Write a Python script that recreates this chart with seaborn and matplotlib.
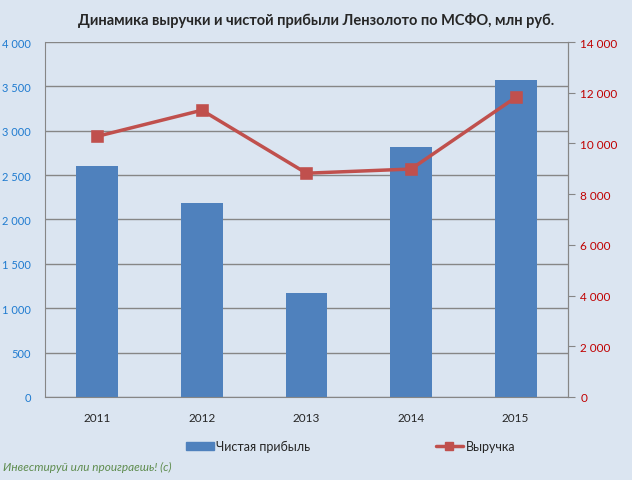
import numpy as np
import pandas as pd
import matplotlib
matplotlib.use("Agg")
import matplotlib.pyplot as plt
from matplotlib.ticker import FuncFormatter, FixedLocator, MultipleLocator
from matplotlib.lines import Line2D
from matplotlib.patches import Patch
import seaborn as sns

# данные
years = ["2011", "2012", "2013", "2014", "2015"]
profit = [2600, 2190, 1175, 2815, 3572]       # Чистая прибыль, млн руб.
revenue = [10280, 11310, 8825, 8990, 11815]   # Выручка, млн руб.

df = pd.DataFrame({"year": years, "profit": profit, "revenue": revenue})

sns.set_style("white")
plt.rcParams["font.family"] = ["Lato", "DejaVu Sans"]

bg = "#DBE5F1"
bar_c = "#4F81BD"
line_c = "#C0504D"
grid_c = "#868686"

fig = plt.figure(figsize=(6.32, 4.81), dpi=100, facecolor=bg)
ax = fig.add_axes([0.0712, 0.1726, 0.8275, 0.738])
ax.set_facecolor(bg)

sns.barplot(data=df, x="year", y="profit", color=bar_c, width=0.4,
            saturation=1, linewidth=0, edgecolor="none", ax=ax, zorder=2)
ax.set_ylim(0, 4000)
ax.yaxis.set_major_locator(MultipleLocator(500))
ax.set_xlim(-0.5, len(years) - 0.5)
ax.grid(axis="y", color=grid_c, linewidth=1, zorder=0)
ax.set_axisbelow(True)

fmt = FuncFormatter(lambda v, p: f"{v:,.0f}".replace(",", " "))
ax.yaxis.set_major_formatter(fmt)
ax.tick_params(axis="y", length=0, labelsize=8, labelcolor="#1F7BD0", pad=10)
ax.tick_params(axis="x", which="major", length=0, labelsize=8.5, pad=11)
ax.xaxis.set_minor_locator(FixedLocator(np.arange(-0.5, len(years), 1.0)))
ax.tick_params(axis="x", which="minor", length=5, color=grid_c, width=1)
ax.set_xlabel("")
ax.set_ylabel("")

ax.spines["top"].set_visible(False)
for s in ["left", "bottom", "right"]:
    ax.spines[s].set_color(grid_c)

ax2 = ax.twinx()
sns.pointplot(data=df, x="year", y="revenue", color=line_c, markers="s",
              markersize=7, linewidth=2.5, ax=ax2)
ax2.set_ylim(0, 14000)
ax2.yaxis.set_major_locator(MultipleLocator(2000))
ax2.yaxis.set_major_formatter(fmt)
ax2.tick_params(axis="y", length=5, color=grid_c, labelsize=8.5,
                labelcolor="#C00000", pad=4)
ax2.set_xlim(-0.5, len(years) - 0.5)
ax2.set_ylabel("")
ax2.set_xlabel("")
ax2.spines["top"].set_visible(False)
ax2.spines["right"].set_color(grid_c)
ax2.spines["left"].set_visible(False)
ax2.spines["bottom"].set_visible(False)

fig.text(0.5, 0.958, "Динамика выручки и чистой прибыли Лензолото по МСФО, млн руб.",
         ha="center", va="center", fontsize=10.5, fontweight="bold")

handles = [Patch(color=bar_c),
           Line2D([], [], color=line_c, marker="s", markersize=6, linewidth=2.5)]
fig.legend(handles, ["Чистая прибыль", "Выручка"], loc="center",
           bbox_to_anchor=(0.555, 0.07), ncol=2, frameon=False, fontsize=9,
           columnspacing=10, handlelength=2.2, handletextpad=0.2)

fig.text(0.005, 0.028, "Инвестируй или проиграешь! (с)", color="#5E8C4E",
         fontsize=8.5, style="italic", ha="left", va="center")

fig.savefig("out.png", dpi=100, facecolor=bg)
